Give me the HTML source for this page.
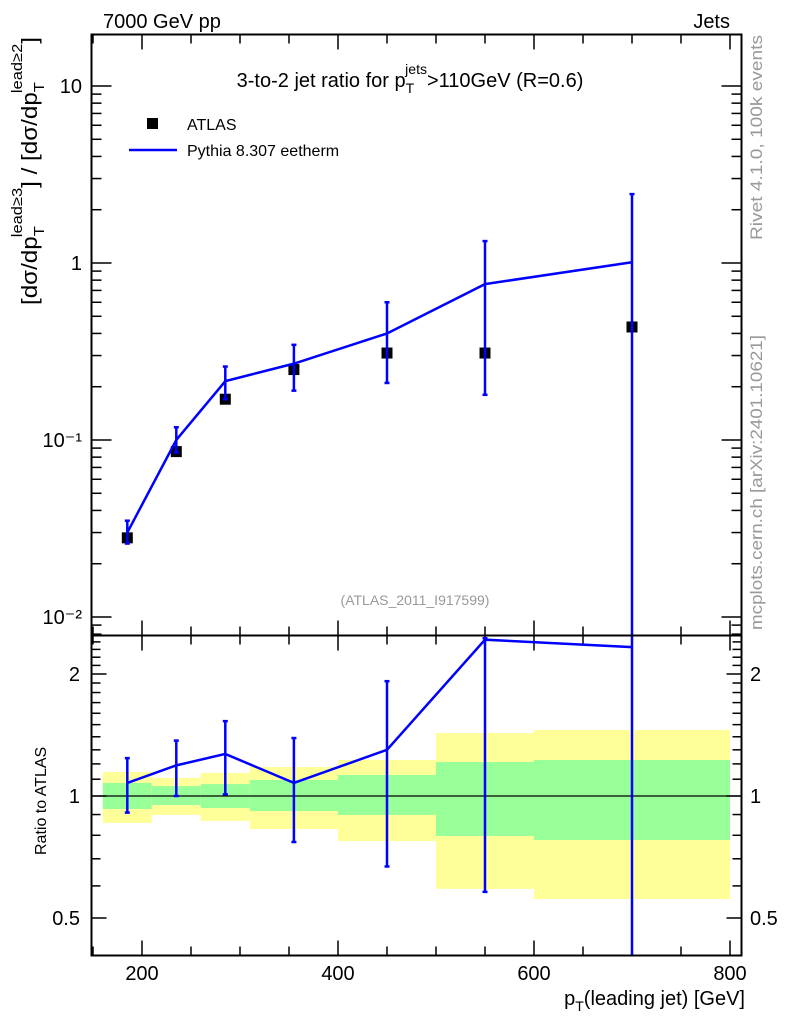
<!DOCTYPE html>
<html><head><meta charset="utf-8"><style>
body{margin:0;background:#fff}
svg{display:block;font-family:"Liberation Sans",sans-serif}
</style></head><body>
<svg id="c" width="786" height="1024" viewBox="0 0 786 1024" xmlns="http://www.w3.org/2000/svg">
<rect width="786" height="1024" fill="#fff"/>
<g id="bands"></g>
<g id="ticks"></g>
<g id="marks"></g>
<rect x="91.5" y="34.5" width="650" height="601" fill="none" stroke="#000" stroke-width="2"/>
<rect x="91.5" y="635.5" width="650" height="320" fill="none" stroke="#000" stroke-width="2"/>
<text x="103" y="28" font-size="20">7000 GeV pp</text>
<text x="730" y="28" font-size="20" text-anchor="end">Jets</text>
<text x="410" y="87" font-size="20" text-anchor="middle">3-to-2 jet ratio for p<tspan font-size="14" dy="6">T</tspan><tspan font-size="14" dx="-9" dy="-19">jets</tspan><tspan dy="13">&gt;110GeV (R=0.6)</tspan></text>
<rect x="147" y="118" width="11" height="11" fill="#000"/>
<text x="187" y="130" font-size="16">ATLAS</text>
<line x1="129" y1="150" x2="177" y2="150" stroke="#00f" stroke-width="2.5"/>
<text x="187" y="156" font-size="16">Pythia 8.307 eetherm</text>
<text x="415" y="605" font-size="14" fill="#999" text-anchor="middle">(ATLAS_2011_I917599)</text>
<text transform="translate(762,240) rotate(-90)" font-size="17" fill="#999" textLength="205" lengthAdjust="spacingAndGlyphs">Rivet 4.1.0,  100k events</text>
<text transform="translate(762,630) rotate(-90)" font-size="17" fill="#999" textLength="295" lengthAdjust="spacingAndGlyphs">mcplots.cern.ch [arXiv:2401.10621]</text>
<text transform="translate(37,305) rotate(-90)" font-size="22" textLength="268" lengthAdjust="spacingAndGlyphs">[dσ/dp<tspan font-size="15" dy="7">T</tspan><tspan font-size="15" dx="-10" dy="-22">lead≥3</tspan><tspan dy="15">] / [dσ/dp</tspan><tspan font-size="15" dy="7">T</tspan><tspan font-size="15" dx="-10" dy="-22">lead≥2</tspan><tspan dy="15">]</tspan></text>
<text transform="translate(46,855) rotate(-90)" font-size="16">Ratio to ATLAS</text>
<text x="745" y="1005" font-size="20" text-anchor="end">p<tspan font-size="14" dy="6">T</tspan><tspan dy="-6">(leading jet) [GeV]</tspan></text>
</svg>
<script>
const binLo=[160,210,260,310,400,500,600];
const binHi=[210,260,310,400,500,600,800];
const xPts=[185,235,285,355,450,550,700];
const dataVals=[0.028,0.086,0.17,0.25,0.31,0.31,0.435];
const mcVals=[0.030,0.100,0.215,0.27,0.40,0.76,1.01];
const mcErrLo=[0.026,0.085,0.17,0.19,0.21,0.18,0.001];
const mcErrHi=[0.035,0.118,0.26,0.345,0.60,1.33,2.45];
const ratioVals=[1.077,1.19,1.27,1.077,1.30,2.43,2.33];
const ratioLo=[0.91,1.0,1.01,0.77,0.67,0.58,0.01];
const ratioHi=[1.24,1.37,1.53,1.39,1.92,2.45,2.60];
const yelLo=[0.858,0.898,0.868,0.829,0.774,0.59,0.557];
const yelHi=[1.146,1.108,1.14,1.179,1.227,1.43,1.455];
const grnLo=[0.929,0.950,0.934,0.918,0.898,0.797,0.779];
const grnHi=[1.077,1.058,1.07,1.095,1.127,1.213,1.227];
const xTicks=[200,400,600,800];
const mainTicks=[0.01,0.1,1,10];
const mainTickLabels=["10⁻²","10⁻¹","1","10"];
const ratioTicks=[0.5,1,2];
const ratioTickLabels=["0.5","1","2"];

const NS="http://www.w3.org/2000/svg";
const L=91.5,R=741.5,T=34.5,MB=635.5,RB=955.5;
const X=v=>142+(v-200)*0.98;
const Y=v=>263-177*Math.log10(v);
const YR=v=>{const y=796-405.3*Math.log10(v);return Math.min(Math.max(y,T+601),RB);};
function mk(p,tag,a){const e=document.createElementNS(NS,tag);for(const k in a)e.setAttribute(k,a[k]);document.getElementById(p).appendChild(e);return e;}
for(let i=0;i<binLo.length;i++){
 let e=mk('bands','rect',{x:X(binLo[i]),y:YR(yelHi[i]),width:X(binHi[i])-X(binLo[i]),height:YR(yelLo[i])-YR(yelHi[i]),fill:'#ffff99'});
 
 
 e=mk('bands','rect',{x:X(binLo[i]),y:YR(grnHi[i]),width:X(binHi[i])-X(binLo[i]),height:YR(grnLo[i])-YR(grnHi[i]),fill:'#99ff99'});
 
 
}
let ul=mk('bands','line',{x1:L,x2:R,y1:YR(1),y2:YR(1),stroke:'#000','stroke-width':1.2});


for(let v=150;v<=810;v+=50){
 const maj=v%200===0, len=maj?15:9;
 [[T,1],[MB,-1],[MB,1],[RB,-1]].forEach(([y0,d])=>{
  const e=mk('ticks','line',{x1:X(v),x2:X(v),y1:y0,y2:y0+d*len,stroke:'#000','stroke-width':1.5});
  
  
 });
}
xTicks.forEach(v=>{const e=mk('ticks','text',{x:X(v),y:980,'text-anchor':'middle','font-size':20});e.textContent=v;
 
 });
for(let d=-3;d<=1;d++)for(let m=1;m<10;m++){
 const v=m*Math.pow(10,d),y=Y(v);if(y<T||y>MB)continue;
 const len=m===1?20:10;
 [[L,1],[R,-1]].forEach(([x0,s])=>{const e=mk('ticks','line',{x1:x0,x2:x0+s*len,y1:y,y2:y,stroke:'#000','stroke-width':1.5});
 
 });
}
mainTicks.forEach((v,i)=>{const e=mk('ticks','text',{x:82,y:Y(v)+7,'text-anchor':'end','font-size':20});e.textContent=mainTickLabels[i];
 
 });
for(let k=4;k<=25;k++){
 const v=k/10,y=YR(v);if(y<=T+601||y>=RB)continue;
 const maj=(k===5||k===10||k===20),len=maj?15:9;
 [[L,1],[R,-1]].forEach(([x0,s])=>{const e=mk('ticks','line',{x1:x0,x2:x0+s*len,y1:y,y2:y,stroke:'#000','stroke-width':1.5});
 
 });
}
ratioTicks.forEach((v,i)=>{
 let e=mk('ticks','text',{x:80,y:YR(v)+7,'text-anchor':'end','font-size':20});e.textContent=ratioTickLabels[i];
 
 
 e=mk('ticks','text',{x:750,y:YR(v)+7,'font-size':20});e.textContent=ratioTickLabels[i];
 
 
});
const clampM=y=>Math.min(Math.max(y,T),MB);
dataVals.forEach((v,i)=>{const e=mk('marks','rect',{x:X(xPts[i])-5.5,y:Y(v)-5.5,width:11,height:11,fill:'#000'});
 
 });
for(let i=0;i<xPts.length;i++){
 const x=X(xPts[i]),y1=clampM(Y(mcErrHi[i])),y2=clampM(Y(mcErrLo[i]));
 let e=mk('marks','line',{x1:x,x2:x,y1:y1,y2:y2,stroke:'#00f','stroke-width':2.5});
 
 
 [y1,y2].forEach(y=>{if(y>T&&y<MB){const c=mk('marks','line',{x1:x-2.5,x2:x+2.5,y1:y,y2:y,stroke:'#00f','stroke-width':2.5});
 
 }});
}
let pl=mk('marks','polyline',{points:xPts.map((x,i)=>X(x)+','+Y(mcVals[i])).join(' '),fill:'none',stroke:'#00f','stroke-width':2.5});


for(let i=0;i<xPts.length;i++){
 const x=X(xPts[i]),y1=YR(ratioHi[i]),y2=YR(ratioLo[i]);
 let e=mk('marks','line',{x1:x,x2:x,y1:y1,y2:y2,stroke:'#00f','stroke-width':2.5});
 
 
 [y1,y2].forEach(y=>{if(y>T+602&&y<RB-1){const c=mk('marks','line',{x1:x-2.5,x2:x+2.5,y1:y,y2:y,stroke:'#00f','stroke-width':2.5});
 
 }});
}
let rl=mk('marks','polyline',{points:xPts.map((x,i)=>X(x)+','+YR(ratioVals[i])).join(' '),fill:'none',stroke:'#00f','stroke-width':2.5});


</script>
</body></html>
